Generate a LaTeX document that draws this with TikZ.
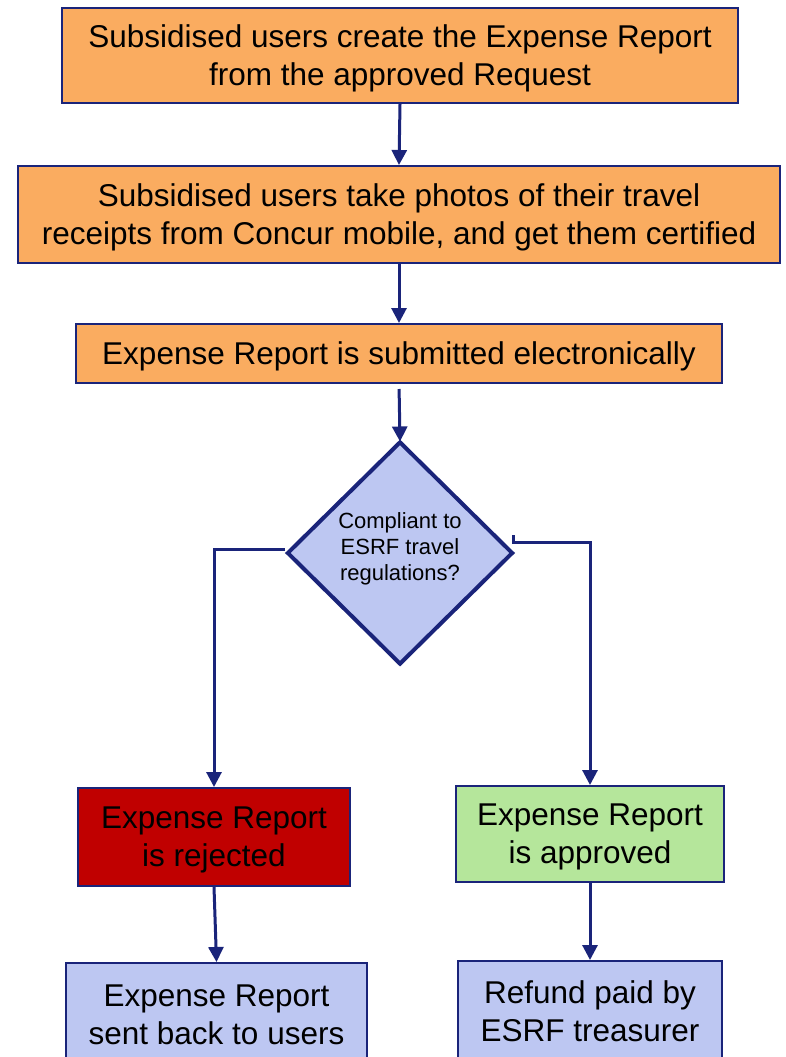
\documentclass[tikz,border=0pt]{standalone}
\usepackage{fontspec}
\setmainfont{Liberation Sans}
\usetikzlibrary{shapes.geometric,arrows.meta}
\definecolor{orng}{RGB}{250,172,96}
\definecolor{lblue}{RGB}{189,199,242}
\definecolor{lgreen}{RGB}{181,230,155}
\definecolor{dred}{RGB}{192,0,0}
\definecolor{navy}{RGB}{26,36,122}
\tikzset{
  box/.style={draw=navy,line width=2pt,rectangle,align=center,inner sep=0pt,
    text depth=0pt,font=\fontsize{31.5}{38}\selectfont},
  arr/.style={draw=navy,line width=3pt,-{Triangle[width=15pt,length=15pt]}},
  dia/.style={draw=navy,fill=lblue,line width=4pt,diamond,inner sep=0pt,
    minimum width=226pt,minimum height=223pt},
  dtxt/.style={align=center,inner sep=0pt,font=\fontsize{22}{26}\selectfont}
}
\begin{document}
\begin{tikzpicture}[x=1pt,y=-1pt]
\clip (0,0) rectangle (786,1057);
\fill[white] (0,0) rectangle (786,1057);
\node[box,fill=orng,minimum width=676pt,minimum height=95pt] (b1) at (400,55.5)
  {Subsidised users create the Expense Report\\from the approved Request};
\node[box,fill=orng,minimum width=762pt,minimum height=97pt] (b2) at (399,214.5)
  {Subsidised users take photos of their travel\\receipts from Concur mobile, and get them certified};
\node[box,fill=orng,minimum width=646pt,minimum height=59pt] (b3) at (399,353.5)
  {Expense Report is submitted electronically};
\node[dia] (d) at (400,553) {};
\node[dtxt] (dt) at (400,549) {Compliant to\\ESRF travel\\regulations?};
\node[box,fill=dred,minimum width=272pt,minimum height=98pt] (rej) at (214,837)
  {Expense Report\\is rejected};
\node[box,fill=lgreen,minimum width=268pt,minimum height=96pt] (app) at (590,834)
  {Expense Report\\is approved};
\node[box,fill=lblue,minimum width=301pt,minimum height=104pt] (sent) at (216.5,1015)
  {Expense Report\\sent back to users};
\node[box,fill=lblue,minimum width=264pt,minimum height=100pt] (ref) at (590,1011)
  {Refund paid by\\ESRF treasurer};
\draw[arr] (b1.south) -- (b2.north);
\draw[arr] (b2.south) -- (b3.north);
\draw[arr,shorten <=5pt] (b3.south) -- ([yshift=-2pt]d.north);
\draw[arr] ([yshift=4pt]d.west) -| (rej.north);
\draw[arr] ([shift={(-2pt,18pt)}]d.east) -- ++(0,7) -| (app.north);
\draw[arr] (rej.south) -- (sent.north);
\draw[arr] (app.south) -- (ref.north);
\end{tikzpicture}
\end{document}
